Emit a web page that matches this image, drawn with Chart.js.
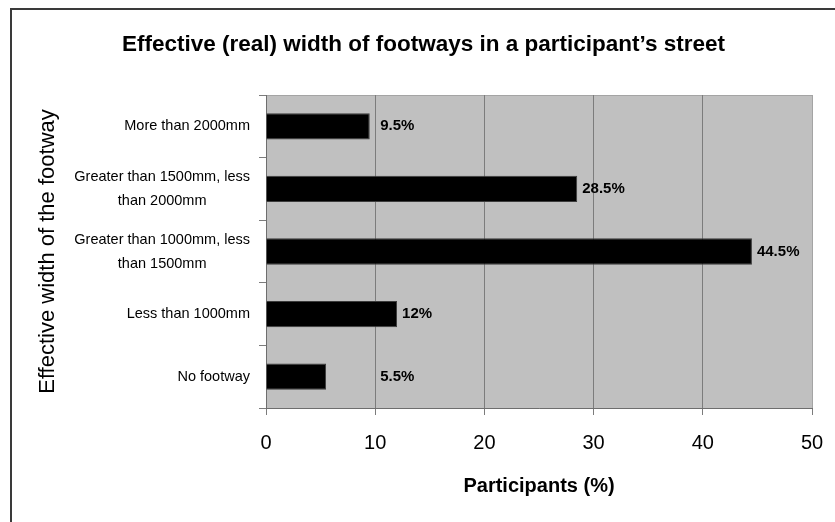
<!DOCTYPE html>
<html>
<head>
<meta charset="utf-8">
<script src="https://cdn.jsdelivr.net/npm/chart.js@4.4.1/dist/chart.umd.min.js"></script>
<style>
  html, body { margin: 0; padding: 0; background: #ffffff; }
</style>
</head>
<body>
<canvas id="myChart" width="835" height="522"></canvas>
<script>
// categories (top to bottom) and share of participants
const categories = [
    ['More than 2000mm'],
    ['Greater than 1500mm, less', 'than 2000mm'],
    ['Greater than 1000mm, less', 'than 1500mm'],
    ['Less than 1000mm'],
    ['No footway']
];
const participants = [9.5, 28.5, 44.5, 12, 5.5];
const xTicks = [0, 10, 20, 30, 40, 50];

const arial = "'Liberation Sans', Arial, sans-serif";

// grey plot area, outer frame, value labels and centred category labels
const excelLook = {
    id: 'excelLook',
    beforeDraw(chart) {
        const { ctx, chartArea: a } = chart;
        ctx.save();
        ctx.fillStyle = '#c0c0c0';
        ctx.fillRect(a.left, a.top, a.right - a.left, a.bottom - a.top);
        ctx.strokeStyle = '#a4a4a4';
        ctx.lineWidth = 1;
        ctx.strokeRect(a.left + 0.5, a.top + 0.5, a.right - a.left, a.bottom - a.top);
        ctx.strokeStyle = '#3a3a3a';
        ctx.lineWidth = 2;
        ctx.strokeRect(11, 9, 1000, 1000);
        ctx.restore();
    },
    afterDatasetsDraw(chart) {
        const { ctx } = chart;
        const xs = chart.scales.x;
        const bars = chart.getDatasetMeta(0).data;
        ctx.save();
        ctx.font = 'bold 15px ' + arial;
        ctx.fillStyle = '#000';
        ctx.textBaseline = 'middle';
        ctx.textAlign = 'left';
        participants.forEach((v, i) => {
            // labels never sit left of the 10% gridline
            const x = xs.getPixelForValue(Math.max(v, 10)) + 5;
            ctx.fillText(v + '%', x, bars[i].y);
        });
        ctx.restore();
    },
    afterDraw(chart) {
        const { ctx } = chart;
        const ys = chart.scales.y;
        ctx.save();
        ctx.font = '14.5px ' + arial;
        ctx.fillStyle = '#000';
        ctx.textBaseline = 'middle';
        ctx.textAlign = 'center';
        categories.forEach((lines, i) => {
            const y = ys.getPixelForTick(i);
            const w = Math.max(...lines.map(l => ctx.measureText(l).width));
            const cx = 250 - w / 2;
            lines.forEach((l, j) => {
                ctx.fillText(l, cx, y + (j - (lines.length - 1) / 2) * 24);
            });
        });
        ctx.restore();
    }
};

const ctx = document.getElementById('myChart');

const myChart = new Chart(ctx, {
    type: 'bar',
    data: {
        labels: categories,
        datasets: [{
            data: participants,
            backgroundColor: '#000000',
            borderColor: '#3c3c3c',
            borderWidth: 1,
            categoryPercentage: 1,
            barPercentage: 0.42
        }]
    },
    options: {
        indexAxis: 'y',
        responsive: false,
        animation: false,
        devicePixelRatio: 1,
        layout: {
            padding: { left: 35, right: 23, top: 0, bottom: 0 }
        },
        plugins: {
            legend: { display: false },
            tooltip: { enabled: false },
            title: {
                display: true,
                text: 'Effective (real) width of footways in a participant\u2019s street',
                color: '#000',
                font: { family: arial, size: 22.5, weight: 'bold' },
                padding: { top: 31, bottom: 37 }
            }
        },
        scales: {
            x: {
                min: 0,
                max: 50,
                afterBuildTicks(scale) {
                    scale.ticks = xTicks.map(v => ({ value: v }));
                },
                afterFit(scale) {
                    scale.height = 114;
                    scale.paddingRight = 0;
                },
                border: { display: true, color: '#6e6e6e', width: 1 },
                grid: {
                    color: c => c.tick && c.tick.value === 50 ? '#a4a4a4' : '#7c7c7c',
                    tickColor: '#7c7c7c',
                    tickLength: 7,
                    lineWidth: 1
                },
                ticks: {
                    color: '#000',
                    font: { family: arial, size: 20 },
                    padding: 16,
                    maxRotation: 0
                },
                title: {
                    display: true,
                    text: 'Participants (%)',
                    color: '#000',
                    font: { family: arial, size: 20, weight: 'bold' },
                    padding: { top: 0, bottom: 24 }
                }
            },
            y: {
                afterFit(scale) { scale.width = 231; },
                border: { display: true, color: '#6e6e6e', width: 1 },
                grid: {
                    offset: true,
                    drawOnChartArea: false,
                    tickColor: '#7c7c7c',
                    tickLength: 7
                },
                ticks: {
                    color: 'rgba(0,0,0,0)',
                    font: { family: arial, size: 14.5 }
                },
                title: {
                    display: true,
                    text: 'Effective width of the footway',
                    color: '#000',
                    font: { family: arial, size: 22 },
                    padding: { top: 0, bottom: 0 }
                }
            }
        }
    },
    plugins: [excelLook]
});
</script>
</body>
</html>
